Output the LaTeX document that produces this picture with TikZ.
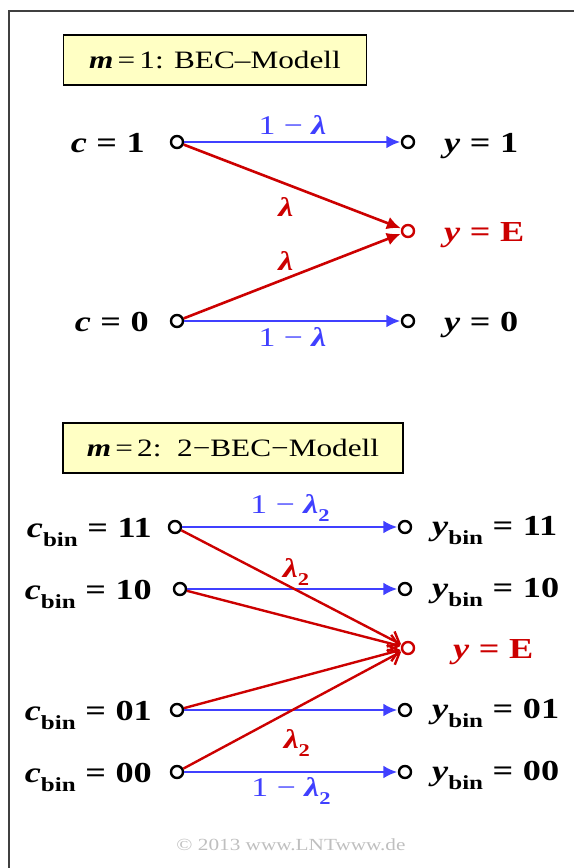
\documentclass[tikz,border=0pt]{standalone}
\usepackage{fontspec}
\setmainfont[FakeStretch=1.25]{Liberation Serif}
\usetikzlibrary{arrows.meta,positioning}
\definecolor{lntblue}{RGB}{64,64,255}
\definecolor{lntred}{RGB}{204,0,0}
\definecolor{lntyellow}{RGB}{255,255,196}
\newcommand{\lblfont}{\fontsize{29}{31}\selectfont\bfseries}
\newcommand{\boxfont}{\fontsize{25}{28}\selectfont}
\newcommand{\bin}{\raisebox{-0.32em}{\fontsize{20}{20}\selectfont\bfseries bin}}
\newcommand{\lam}{{\bfseries\itshape λ}}
\newcommand{\lamtwo}{{\bfseries\itshape λ}\raisebox{-0.3em}{\fontsize{18}{18}\selectfont\bfseries 2}}
\newcommand{\eq}{\hspace{0.33em}=\hspace{0.33em}}

\begin{document}
\begin{tikzpicture}[x=1pt,y=-1pt,>=Latex,
  every node/.style={inner sep=1pt,font=\lblfont},
  port/.style={circle,draw,line width=2.4pt,minimum size=12pt,inner sep=0pt},
  title/.style={draw,line width=1.2pt,fill=lntyellow,minimum height=50pt,inner sep=6pt,font=\boxfont},
  pass/.style={draw=lntblue,line width=2.6pt,-{Latex[length=14pt,width=13pt]},shorten >=0.5pt},
  erase/.style={draw=lntred,line width=2.6pt,-{Latex[length=14pt,width=13pt]},shorten >=0.5pt},
  erasebarb/.style={draw=lntred,line width=2.4pt,-{Straight Barb[length=10pt,width=17pt]},shorten >=0.5pt},
  passlbl/.style={text=lntblue,font=\fontsize{27}{30}\selectfont},
  eraselbl/.style={text=lntred,font=\fontsize{27}{30}\selectfont}]
\useasboundingbox (0,0) rectangle (574,868);
\draw[line width=2.4pt,draw=black!75] (9,868) -- (9,11) -- (574,11);

% m = 1
\node[title,minimum width=303pt] (head1) at (215,60) {{\bfseries\itshape m}\,=\,1: BEC–Modell};
\node[port] (c1) at (177,142) {};
\node[port] (c0) at (177,321) {};
\node[port] (y1) at (408,142) {};
\node[port,draw=lntred] (ye) at (408,231) {};
\node[port] (y0) at (408,321) {};
\node[anchor=base east] (lc1) at (146,152) {\textit{c}\eq 1};
\node[anchor=base east] (lc0) at (150,331) {\textit{c}\eq 0};
\node[anchor=base west] (ly1) at (443,152) {\textit{y}\eq 1};
\node[anchor=base west,text=lntred] (lye) at (443,241) {\textit{y}\eq E};
\node[anchor=base west] (ly0) at (443,331) {\textit{y}\eq 0};
\draw[pass] (c1) -- node[passlbl,above=5pt]{1 − \lam} (y1);
\draw[pass] (c0) -- node[passlbl,below=4pt]{1 − \lam} (y0);
\draw[erase] (c1) -- node[eraselbl,pos=0.47,below=11pt]{\lam} (ye);
\draw[erase] (c0) -- node[eraselbl,pos=0.47,above=6pt]{\lam} (ye);

% m = 2
\node[title,minimum width=340pt] (head2) at (233,448) {{\bfseries\itshape m}\,=\,2:\ \ 2−BEC−Modell};
\node[port] (c11) at (175,527) {};
\node[port] (c10) at (180,589) {};
\node[port] (c01) at (177,710) {};
\node[port] (c00) at (177,772) {};
\node[port] (y11) at (405,527) {};
\node[port] (y10) at (405,589) {};
\node[port,draw=lntred] (yee) at (408,648) {};
\node[port] (y01) at (405,710) {};
\node[port] (y00) at (405,772) {};
\node[anchor=base east] (lc11) at (153,537) {\textit{c}\bin\eq 11};
\node[anchor=base east] (lc10) at (153,599) {\textit{c}\bin\eq 10};
\node[anchor=base east] (lc01) at (153,720) {\textit{c}\bin\eq 01};
\node[anchor=base east] (lc00) at (153,782) {\textit{c}\bin\eq 00};
\node[anchor=base west] (ly11) at (431,535) {\textit{y}\bin\eq 11};
\node[anchor=base west] (ly10) at (431,597) {\textit{y}\bin\eq 10};
\node[anchor=base west,text=lntred] (lyee) at (452,658) {\textit{y}\eq E};
\node[anchor=base west] (ly01) at (431,718) {\textit{y}\bin\eq 01};
\node[anchor=base west] (ly00) at (431,780) {\textit{y}\bin\eq 00};
\draw[pass] (c11) -- node[passlbl,above=3pt]{1 − \lamtwo} (y11);
\draw[pass] (c10) -- (y10);
\draw[pass] (c01) -- (y01);
\draw[pass] (c00) -- node[passlbl,below=3pt]{1 − \lamtwo} (y00);
\draw[erasebarb] (c11) -- node[eraselbl,pos=0.52,above=2pt]{\lamtwo} (yee);
\draw[erasebarb] (c10) -- (yee);
\draw[erasebarb] (c01) -- (yee);
\draw[erasebarb] (c00) -- node[eraselbl,pos=0.52,below=20pt]{\lamtwo} (yee);

\node[text=black!25,font=\fontsize{17}{18}\selectfont] (copy) at (291,845) {© 2013 www.LNTwww.de};
\end{tikzpicture}
\end{document}
